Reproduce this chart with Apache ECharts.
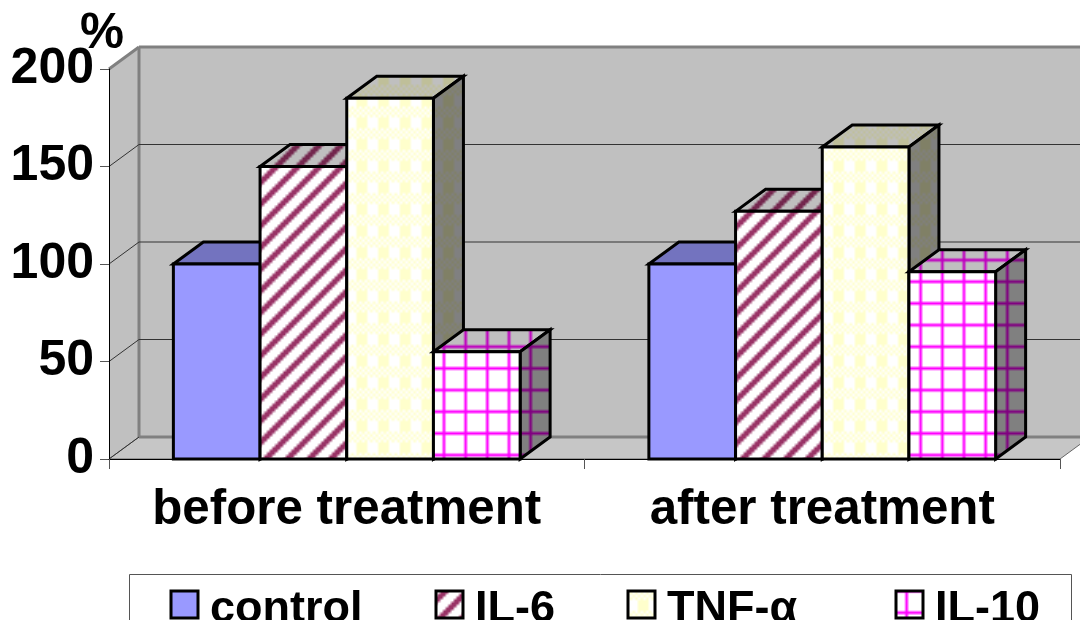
<!DOCTYPE html>
<html>
<head>
<meta charset="utf-8">
<style>
  html, body { margin: 0; padding: 0; background: #fff; }
  #chart { width: 1080px; height: 620px; }
</style>
<script src="https://cdn.jsdelivr.net/npm/echarts@6/dist/echarts.min.js"></script>
</head>
<body>
<div id="chart"></div>
<script>
const categories = ["before treatment", "after treatment"];
const controlValues = [100, 100];
const il6Values = [150, 127];
const tnfValues = [185, 160];
const il10Values = [55, 96];
const yTicks = [0, 50, 100, 150, 200];

const FONT = "Liberation Sans";
const DEPTH_X = 30;
const DEPTH_Y = 22;
const BAR_SHARE = 0.1823;
// square with an empty point below it, so the text sits lower than the swatch
const LEGEND_ICON = "path://M0 0H27V27H0Z M0 37L0 37";

// Excel style 8x8 fill bitmaps: # = fg, . = bg. sx, sy line the tile up with the page
const BITMAPS = {
  stripes: { rows: ["#.....##", ".....###", "....###.", "...###..", "..###...", ".###....", "###.....", "##.....#"], sx: 4.46, sy: 0 },
  plaid: { rows: ["####....", "####....", "####....", "####....", "#.#.#.#.", ".#.#.#.#", "#.#.#.#.", ".#.#.#.#"], sx: 4.4, sy: 4.7 },
  grid: { rows: ["..#.....", "..#.....", "..#.....", "########", "..#.....", "..#.....", "..#.....", "..#....."], sx: 6.6, sy: 3.5 },
};

function shade(rgb, k) {
  return "rgb(" + rgb.map((c) => Math.round(c * k)).join(",") + ")";
}

// scale the bitmap up with smoothing so it gets the soft edges of the original
function makePattern(bitmap, fg, bg, k) {
  const src = document.createElement("canvas");
  src.width = 48;
  src.height = 48;
  const s = src.getContext("2d");
  s.fillStyle = shade(bg, k);
  s.fillRect(0, 0, 48, 48);
  s.fillStyle = shade(fg, k);
  for (let y = 0; y < 48; y++) {
    for (let x = 0; x < 48; x++) {
      if (bitmap.rows[y % 8][x % 8] === "#") s.fillRect(x, y, 1, 1);
    }
  }
  const out = document.createElement("canvas");
  out.width = 65;
  out.height = 65;
  const o = out.getContext("2d");
  o.imageSmoothingEnabled = true;
  o.drawImage(src, 8 + bitmap.sx, 8 + bitmap.sy, 24, 24, 0, 0, 65, 65);
  return { image: out, repeat: "repeat" };
}

function makeFills(bitmap, fg, bg) {
  return {
    front: makePattern(bitmap, fg, bg, 1),
    top: makePattern(bitmap, fg, bg, 0.75),
    side: makePattern(bitmap, fg, bg, 0.5),
  };
}

const WHITE = [255, 255, 255];
const fills = {
  control: {
    front: shade([153, 153, 255], 1),
    top: shade([153, 153, 255], 0.75),
    side: shade([153, 153, 255], 0.5),
  },
  il6: makeFills(BITMAPS.stripes, [153, 51, 102], WHITE),
  tnf: makeFills(BITMAPS.plaid, [255, 255, 204], WHITE),
  il10: makeFills(BITMAPS.grid, [255, 0, 255], WHITE),
};

function renderWalls(params, api) {
  const value = api.value(0);
  const left = api.coord([0, value])[0] - api.size([1, 0])[0] / 2;
  const right = left + api.size([1, 0])[0] * categories.length;
  const y = api.coord([0, value])[1];
  const children = [];

  if (params.dataIndex === 0) {
    const top = api.coord([0, yTicks[yTicks.length - 1]])[1];
    children.push(
      {
        type: "polygon",
        shape: { points: [[left + DEPTH_X, top - DEPTH_Y], [right + DEPTH_X, top - DEPTH_Y], [right + DEPTH_X, y - DEPTH_Y], [left + DEPTH_X, y - DEPTH_Y]] },
        style: { fill: "#c0c0c0" },
      },
      {
        type: "polygon",
        shape: { points: [[left, top], [left + DEPTH_X, top - DEPTH_Y], [left + DEPTH_X, y - DEPTH_Y], [left, y]] },
        style: { fill: "#c0c0c0" },
      },
      {
        type: "polygon",
        shape: { points: [[left, y], [left + DEPTH_X, y - DEPTH_Y], [right + DEPTH_X, y - DEPTH_Y], [right, y]] },
        style: { fill: "#c6c6c6", stroke: "#666", lineWidth: 1 },
      },
      {
        type: "line",
        shape: { x1: left + DEPTH_X, y1: top - DEPTH_Y, x2: left + DEPTH_X, y2: y - DEPTH_Y },
        style: { stroke: "#808080", lineWidth: 3 },
      }
    );
  }

  const isEdge = params.dataIndex === 0 || params.dataIndex === yTicks.length - 1;
  const gridStyle = isEdge
    ? { stroke: "#808080", lineWidth: 3 }
    : { stroke: "#333", lineWidth: 1 };
  children.push(
    {
      type: "line",
      shape: { x1: left + DEPTH_X, y1: y - DEPTH_Y, x2: right + DEPTH_X, y2: y - DEPTH_Y },
      style: gridStyle,
    },
    {
      type: "line",
      shape: { x1: left, y1: y, x2: left + DEPTH_X, y2: y - DEPTH_Y },
      style: params.dataIndex === 0 ? { stroke: "#333", lineWidth: 1 } : gridStyle,
    }
  );
  return { type: "group", children: children };
}

function barRenderer(seriesIndex, fill) {
  return function (params, api) {
    const base = api.coord([api.value(0), 0]);
    const tip = api.coord([api.value(0), api.value(1)]);
    const w = api.size([1, 0])[0] * BAR_SHARE;
    const x0 = base[0] - 2 * w + seriesIndex * w;
    const x1 = x0 + w;
    const yTop = tip[1];
    const yBase = base[1];
    const edge = { stroke: "#000", lineWidth: 3, lineJoin: "miter" };
    return {
      type: "group",
      children: [
        {
          type: "polygon",
          shape: { points: [[x0, yTop], [x0 + DEPTH_X, yTop - DEPTH_Y], [x1 + DEPTH_X, yTop - DEPTH_Y], [x1, yTop]] },
          style: Object.assign({ fill: fill.top }, edge),
        },
        {
          type: "polygon",
          shape: { points: [[x1, yTop], [x1 + DEPTH_X, yTop - DEPTH_Y], [x1 + DEPTH_X, yBase - DEPTH_Y], [x1, yBase]] },
          style: Object.assign({ fill: fill.side }, edge),
        },
        {
          type: "polygon",
          shape: { points: [[x0, yTop], [x1, yTop], [x1, yBase], [x0, yBase]] },
          style: Object.assign({ fill: fill.front }, edge),
        },
      ],
    };
  };
}

function barSeries(name, values, index, fill) {
  return {
    name: name,
    type: "custom",
    renderItem: barRenderer(index, fill),
    itemStyle: { color: fill.front },
    encode: { x: 0, y: 1 },
    data: values.map((v, i) => [i, v]),
    z: 2 + index,
    animation: false,
    silent: true,
  };
}

function legendAt(name, x) {
  return {
    data: [{ name: name, icon: LEGEND_ICON }],
    left: x,
    top: 587,
    padding: 0,
    itemWidth: 27,
    itemHeight: 37,
    itemStyle: { borderColor: "#000", borderWidth: 3 },
    textStyle: { fontFamily: FONT, fontWeight: "bold", fontSize: 45, color: "#000", padding: [0, 0, 0, 7] },
    selectedMode: false,
  };
}

const chart = echarts.init(document.getElementById("chart"), null, { renderer: "canvas" });
chart.setOption({
  animation: false,
  backgroundColor: "#fff",
  grid: { left: 109, right: 20, top: 69, height: 390, outerBoundsMode: "none" },
  xAxis: {
    type: "category",
    data: categories,
    z: 3,
    axisLine: { lineStyle: { color: "#000", width: 1 } },
    axisTick: { show: true, interval: 0, length: 10, lineStyle: { color: "#555", width: 1 } },
    axisLabel: { interval: 0, fontFamily: FONT, fontWeight: "bold", fontSize: 49.3, color: "#000", margin: 27 },
  },
  yAxis: {
    type: "value",
    min: 0,
    max: 200,
    interval: 50,
    name: "%",
    nameLocation: "end",
    nameGap: 10,
    nameMoveOverlap: false,
    nameTextStyle: { fontFamily: FONT, fontWeight: "bold", fontSize: 49.5, color: "#000", padding: [0, 14, 0, 0] },
    axisLine: { show: true, lineStyle: { color: "#000", width: 1 } },
    axisTick: { show: true, length: 9, lineStyle: { color: "#555", width: 1 } },
    axisLabel: { fontFamily: FONT, fontWeight: "bold", fontSize: 50, color: "#000", margin: 15 },
    splitLine: { show: false },
  },
  legend: [
    legendAt("control", 169.5),
    legendAt("IL-6", 434.5),
    legendAt("TNF-α", 626.5),
    legendAt("IL-10", 894.5),
  ],
  graphic: [
    {
      type: "rect",
      shape: { x: 129.5, y: 574.5, width: 942, height: 80 },
      style: { fill: "#fff", stroke: "#555", lineWidth: 1 },
      z: -1,
    },
  ],
  series: [
    {
      type: "custom",
      name: "walls",
      renderItem: renderWalls,
      encode: { y: 0 },
      data: yTicks.map((t) => [t]),
      z: -1,
      silent: true,
      animation: false,
    },
    barSeries("control", controlValues, 0, fills.control),
    barSeries("IL-6", il6Values, 1, fills.il6),
    barSeries("TNF-α", tnfValues, 2, fills.tnf),
    barSeries("IL-10", il10Values, 3, fills.il10),
  ],
});
</script>
</body>
</html>
